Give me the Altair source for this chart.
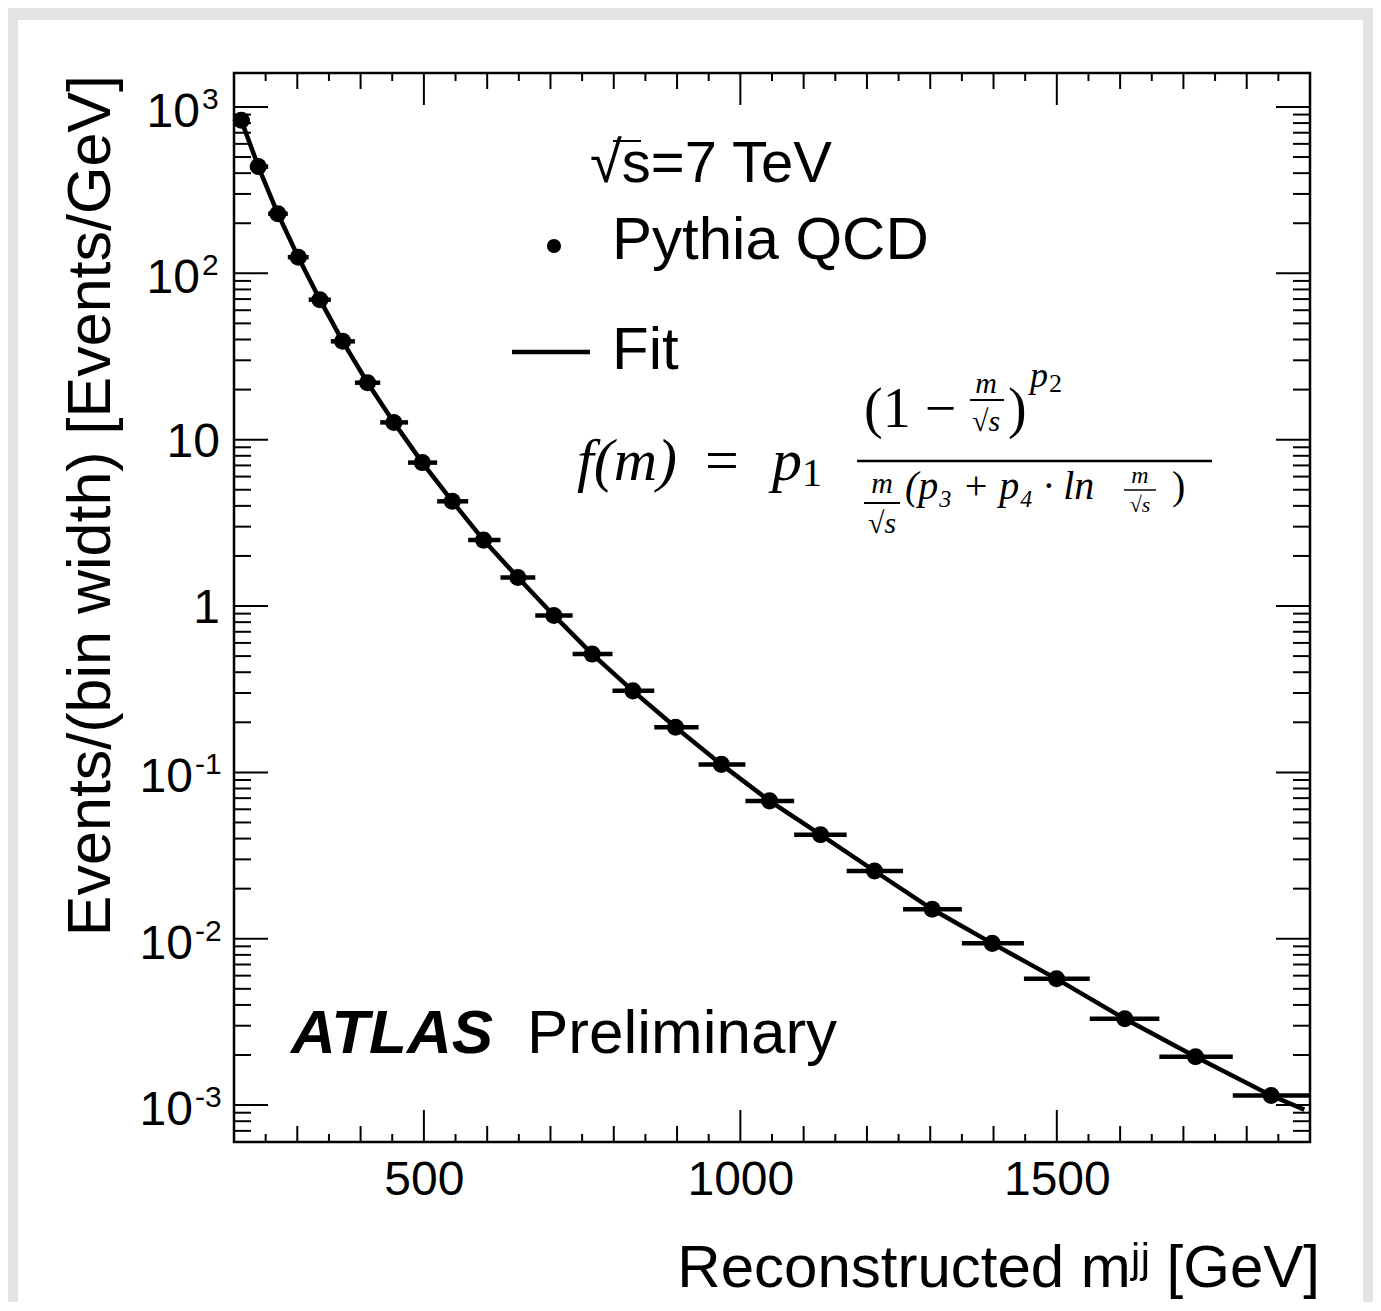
import altair as alt
import pandas as pd

# ---- data ----
bin_lo = [198, 225, 254, 285, 318, 353, 391, 431, 475, 521, 570, 621, 676, 735,
          798, 864, 934, 1008, 1085, 1168, 1257, 1350, 1448, 1552, 1662, 1778]
bin_hi = [225, 254, 285, 318, 353, 391, 431, 475, 521, 570, 621, 676, 735, 798,
          864, 934, 1008, 1085, 1168, 1257, 1350, 1448, 1552, 1662, 1778, 1899]
mass = [211.5, 238.4, 269.3, 301.6, 335.7, 371.7, 411.0, 452.6, 497.5, 544.9,
        594.3, 648.5, 705.4, 766.0, 830.2, 897.6, 970.0, 1046.1, 1126.7, 1212.0,
        1303.2, 1398.0, 1499.5, 1607.4, 1719.1, 1838.7]
events = [832, 438, 228, 125, 69.4, 39.0, 22.0, 12.7, 7.28, 4.26, 2.49, 1.486,
          0.878, 0.514, 0.309, 0.187, 0.1117, 0.0674, 0.0422, 0.02554, 0.01503,
          0.00938, 0.00574, 0.00330, 0.00195, 0.001142]
fit_mass = [211.5, 238.4, 269.3, 301.6, 335.7, 371.7, 411.0, 452.6, 497.5, 544.9,
            594.3, 648.5, 705.4, 766.0, 830.2, 897.6, 970.0, 1046.1, 1126.7, 1212.0,
            1303.2, 1398.0, 1499.5, 1607.4, 1719.1, 1838.7, 1891.0]
fit_events = [832, 438, 228, 125, 69.4, 39.0, 22.0, 12.7, 7.28, 4.26, 2.49, 1.486,
              0.878, 0.514, 0.309, 0.187, 0.1117, 0.0674, 0.0422, 0.02554, 0.01503,
              0.00938, 0.00574, 0.00330, 0.00195, 0.001142, 0.00094]

x_label_values = [500, 1000, 1500]
y_decades = [1000, 100, 10, 1, 0.1, 0.01, 0.001]
y_base = ["10", "10", "10", "1", "10", "10", "10"]
y_sup = ["3", "2", "", "", "-1", "-2", "-3"]

# ---- layout ----
W, H = 1076, 1069
FONT = "Liberation Sans"
MATH = "Liberation Serif"
xs = alt.Scale(domain=[200, 1900], nice=False, zero=False)
ys = alt.Scale(type="log", domain=[6e-4, 1600], nice=False)
xaxis = alt.Axis(values=x_label_values, ticks=False, domain=False, grid=False,
                 labelFontSize=48, labelFont=FONT, labelColor="black", format="d",
                 labelPadding=14, title=None, labelFlush=False)

dummy = pd.DataFrame({"a": [0]})

def text(s, x, y, size, align="left", baseline="middle", font=FONT,
         style="normal", weight="normal", angle=0):
    return alt.Chart(pd.DataFrame({"t": [s]})).mark_text(
        align=align, baseline=baseline, fontSize=size, font=font,
        fontStyle=style, fontWeight=weight, angle=angle, color="black"
    ).encode(x=alt.value(x), y=alt.value(y), text="t:N")

def hbar(x1, x2, y, w=2.5):
    return alt.Chart(dummy).mark_rule(color="black", strokeWidth=w).encode(
        x=alt.value(x1), x2=alt.value(x2), y=alt.value(y))

def grect(x1, x2, y1, y2):
    return alt.Chart(dummy).mark_rect(color="#e3e3e3").encode(
        x=alt.value(x1), x2=alt.value(x2), y=alt.value(y1), y2=alt.value(y2))

layers = []
# slide border (approximation)
layers += [grect(-226, 1139, -65, -53), grect(-226, -216, -65, 1230),
           grect(1129, 1139, -65, 1230)]

# ---- ticks drawn inward on all four sides ----
xt = pd.DataFrame({"v": list(range(200, 1901, 50))})
xt["len"] = xt["v"].apply(lambda v: 32 if v % 500 == 0 else (16 if v % 100 == 0 else 8))
yt_vals = []
for e in range(-4, 4):
    for k in range(1, 10):
        v = k * 10.0 ** e
        if 6e-4 <= v <= 1600:
            yt_vals.append((v, 34 if k == 1 else 17))
yt = pd.DataFrame(yt_vals, columns=["v", "len"])

for L in sorted(xt["len"].unique()):
    d = xt[xt["len"] == L]
    layers.append(alt.Chart(d).mark_rule(color="black", strokeWidth=2).encode(
        x=alt.X("v:Q", scale=xs, axis=xaxis), y=alt.value(H), y2=alt.value(H - int(L))))
    layers.append(alt.Chart(d).mark_rule(color="black", strokeWidth=2).encode(
        x=alt.X("v:Q", scale=xs, axis=xaxis), y=alt.value(0), y2=alt.value(int(L))))
for L in sorted(yt["len"].unique()):
    d = yt[yt["len"] == L]
    layers.append(alt.Chart(d).mark_rule(color="black", strokeWidth=2).encode(
        y=alt.Y("v:Q", scale=ys, axis=None), x=alt.value(0), x2=alt.value(int(L))))
    layers.append(alt.Chart(d).mark_rule(color="black", strokeWidth=2).encode(
        y=alt.Y("v:Q", scale=ys, axis=None), x=alt.value(W), x2=alt.value(W - int(L))))

# ---- data ----
df = pd.DataFrame({"lo": bin_lo, "hi": bin_hi, "m": mass, "val": events})
fit = pd.DataFrame({"m": fit_mass, "val": fit_events})

layers.append(alt.Chart(df).mark_rule(color="black", strokeWidth=4.5, clip=True).encode(
    x=alt.X("lo:Q", scale=xs, axis=xaxis), x2="hi:Q",
    y=alt.Y("val:Q", scale=ys, axis=None)))
layers.append(alt.Chart(fit).mark_line(color="black", strokeWidth=4.5, clip=True).encode(
    x=alt.X("m:Q", scale=xs, axis=xaxis), y=alt.Y("val:Q", scale=ys, axis=None)))
layers.append(alt.Chart(df).mark_circle(color="black", size=290, opacity=1).encode(
    x=alt.X("m:Q", scale=xs, axis=xaxis), y=alt.Y("val:Q", scale=ys, axis=None)))

# ---- y tick labels with exponents ----
yl = pd.DataFrame({"v": y_decades, "base": y_base, "sup": y_sup})
yl["kind"] = yl["sup"].apply(lambda s: "neg" if s.startswith("-") else ("pos" if s else "none"))
for kind, bx, dy in [("none", -14, 17), ("pos", -34, 20), ("neg", -41, 20)]:
    layers.append(alt.Chart(yl).transform_filter(alt.datum.kind == kind).mark_text(
        align="right", baseline="alphabetic", dy=dy, fontSize=48, font=FONT, color="black"
    ).encode(y=alt.Y("v:Q", scale=ys, axis=None), x=alt.value(bx), text="base:N"))
for kind, sx in [("pos", -32), ("neg", -39)]:
    layers.append(alt.Chart(yl).transform_filter(alt.datum.kind == kind).mark_text(
        align="left", baseline="alphabetic", dy=2, fontSize=30, font=FONT, color="black"
    ).encode(y=alt.Y("v:Q", scale=ys, axis=None), x=alt.value(sx), text="sup:N"))

# ---- axis titles ----
layers.append(text("Reconstructed m\u02b2\u02b2 [GeV]", 1086, 1214, 60,
                   align="right", baseline="alphabetic"))
layers.append(text("Events/(bin width) [Events/GeV]", -124, 2, 61,
                   align="right", baseline="alphabetic", angle=270))

# ---- legend and labels ----
layers.append(text("\u221as=7 TeV", 356, 92, 58))
layers.append(hbar(379, 407, 68, 2))
layers.append(alt.Chart(dummy).mark_circle(color="black", size=200, opacity=1).encode(
    x=alt.value(320), y=alt.value(173)))
layers.append(text("Pythia QCD", 378, 168, 60))
layers.append(hbar(278, 356, 279, 4.5))
layers.append(text("Fit", 378, 278, 60))
layers.append(text("ATLAS", 57, 980, 62, baseline="alphabetic", style="italic", weight="bold"))
layers.append(text("Preliminary", 293, 980, 62, baseline="alphabetic"))

# ---- fit formula ----
layers.append(text("f(m)", 343, 389, 60, font=MATH, style="italic"))
layers.append(text("=", 471, 389, 60, font=MATH))
layers.append(text("p", 538, 389, 60, font=MATH, style="italic"))
layers.append(text("1", 568, 401, 40, font=MATH))
layers.append(hbar(623, 978, 388, 2.5))
# numerator
layers.append(text("(1 \u2212", 630, 337, 56, font=MATH))
layers.append(text("m", 752, 311, 30, align="center", font=MATH, style="italic"))
layers.append(hbar(736, 770, 327, 2))
layers.append(text("\u221as", 752, 349, 30, align="center", font=MATH, style="italic"))
layers.append(text(")", 774, 337, 56, font=MATH))
layers.append(text("p", 796, 303, 36, font=MATH, style="italic"))
layers.append(text("2", 815, 311, 26, font=MATH))
# denominator
layers.append(text("m", 648, 411, 30, align="center", font=MATH, style="italic"))
layers.append(hbar(630, 666, 430, 2))
layers.append(text("\u221as", 648, 451, 30, align="center", font=MATH, style="italic"))
layers.append(text("(p\u2083 + p\u2084 \u00b7 ln", 671, 414, 40, font=MATH, style="italic"))
layers.append(text("m", 906, 403, 24, align="center", font=MATH, style="italic"))
layers.append(hbar(890, 922, 417, 1.5))
layers.append(text("\u221as", 906, 432, 22, align="center", font=MATH, style="italic"))
layers.append(text(")", 938, 414, 40, font=MATH))

chart = alt.layer(*layers).properties(
    width=W, height=H,
    autosize=alt.AutoSizeParams(type="none"),
    padding={"left": 226, "top": 65, "right": 63, "bottom": 160},
    background="white",
).configure_view(stroke="black", strokeWidth=2.5, fill="white")

chart.save("out.html", embed_options={"renderer": "svg", "actions": False})
